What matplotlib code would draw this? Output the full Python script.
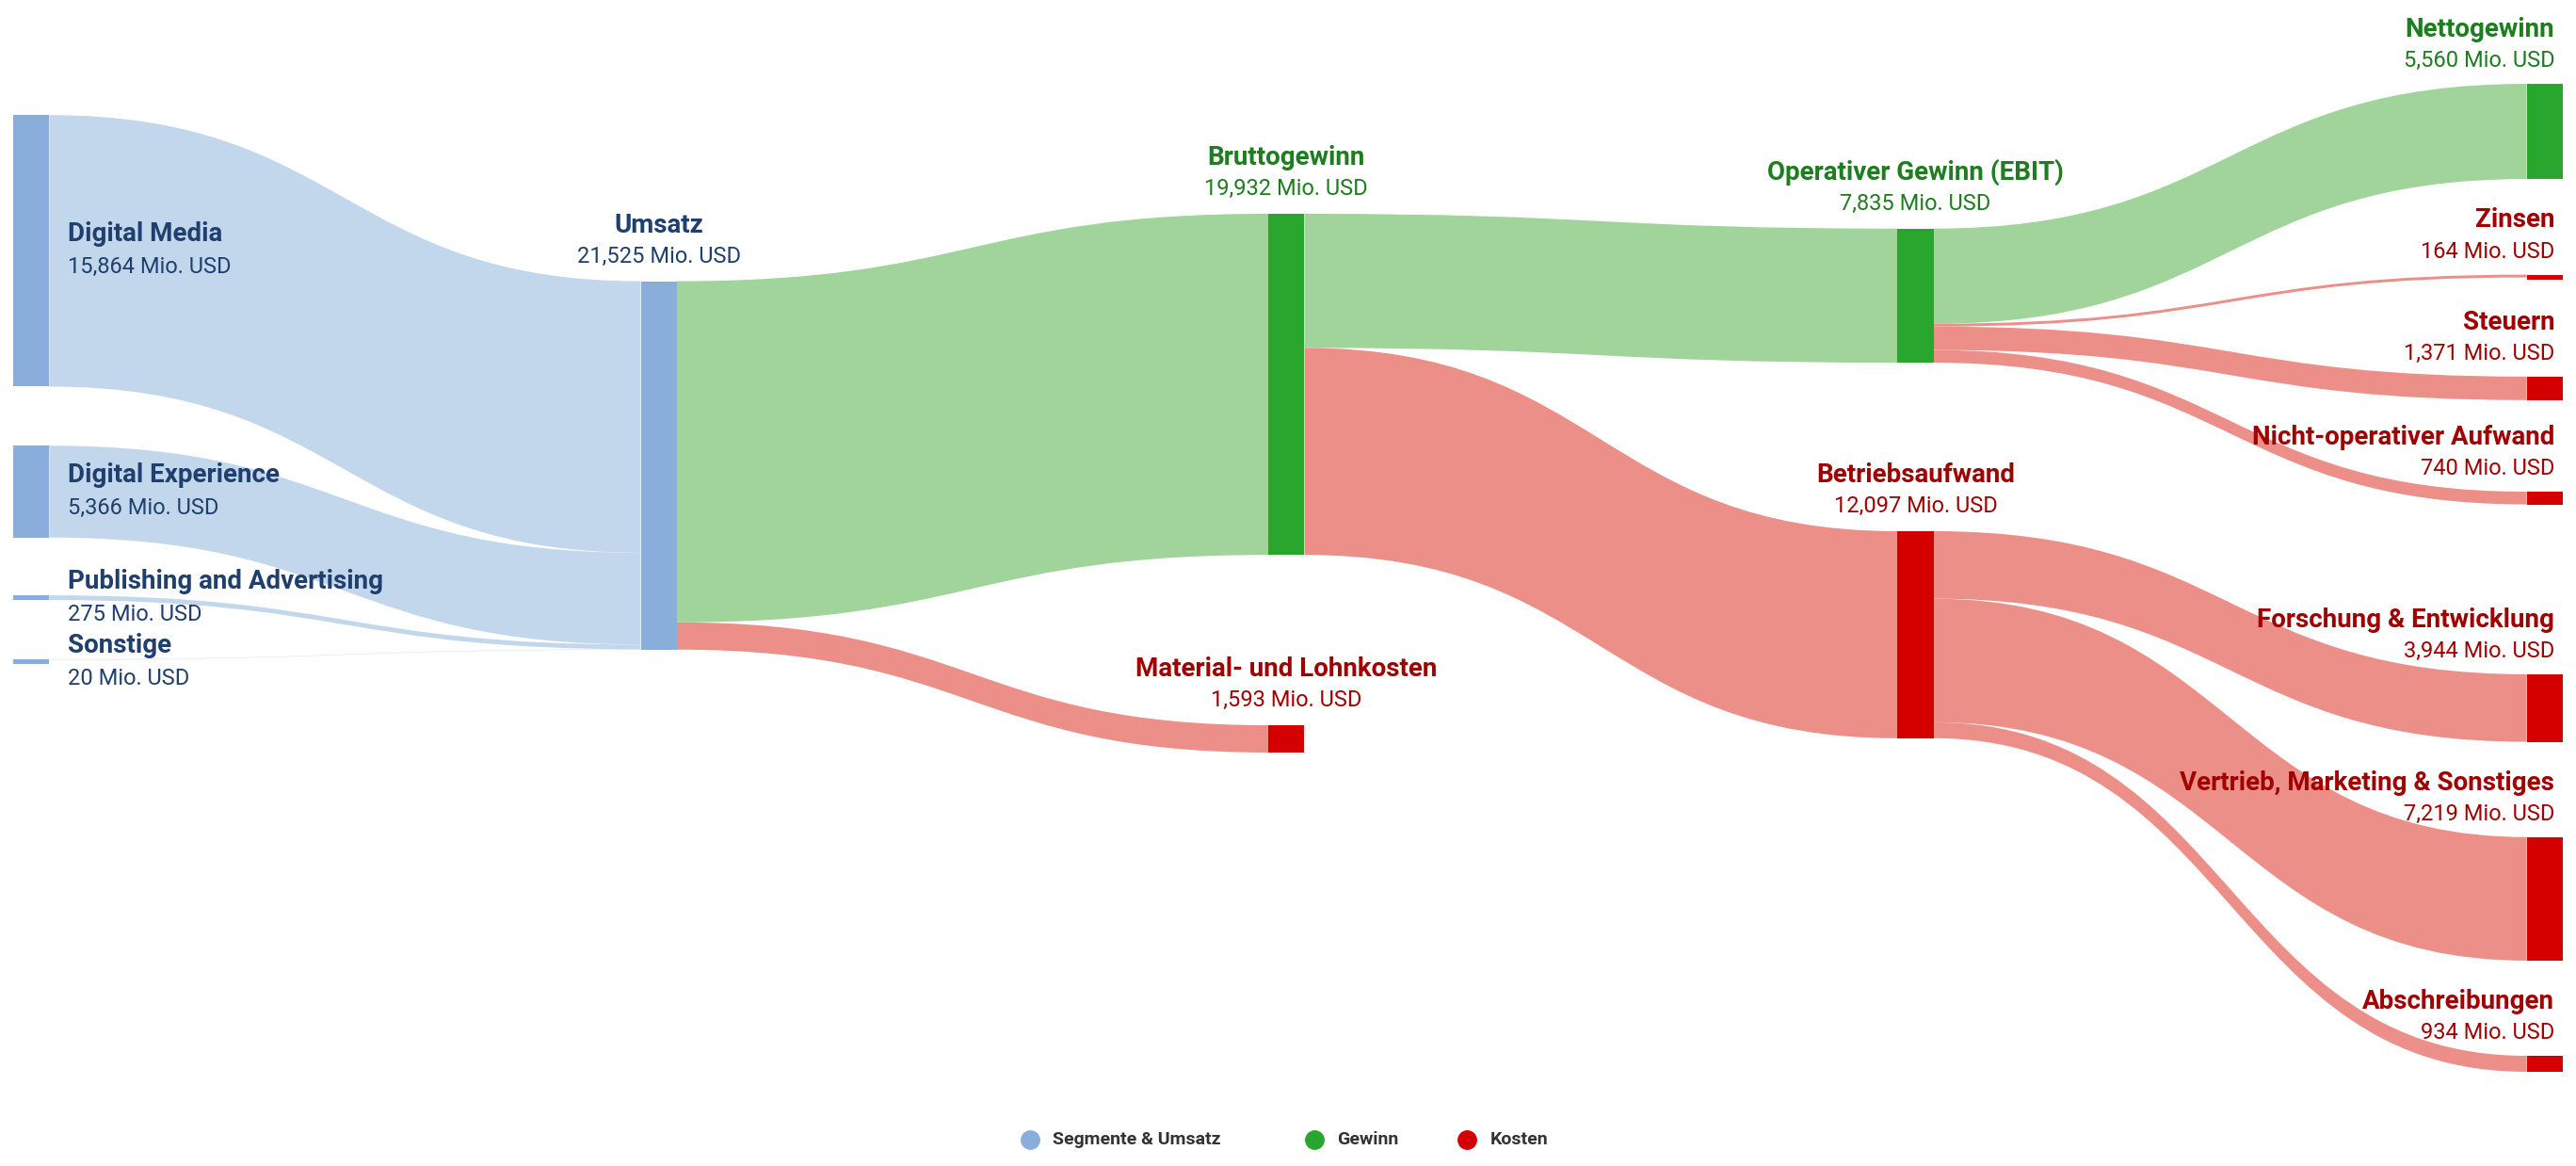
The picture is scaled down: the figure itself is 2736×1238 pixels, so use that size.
import matplotlib
matplotlib.use("Agg")
import matplotlib.pyplot as plt
from matplotlib.path import Path
from matplotlib.patches import PathPatch, Rectangle

plt.rcParams['font.family'] = ['Roboto', 'DejaVu Sans']

# ---- data ----
node_names = ["Digital Media", "Digital Experience", "Publishing and Advertising", "Sonstige",
              "Umsatz", "Bruttogewinn", "Material- und Lohnkosten",
              "Operativer Gewinn (EBIT)", "Betriebsaufwand",
              "Nettogewinn", "Zinsen", "Steuern", "Nicht-operativer Aufwand",
              "Forschung & Entwicklung", "Vertrieb, Marketing & Sonstiges", "Abschreibungen"]
node_values = [15864, 5366, 275, 20, 21525, 19932, 1593, 7835, 12097,
               5560, 164, 1371, 740, 3944, 7219, 934]
node_kind = ["seg", "seg", "seg", "seg", "seg", "gain", "cost", "gain", "cost",
             "gain", "cost", "cost", "cost", "cost", "cost", "cost"]
flows = [(0, 4), (1, 4), (2, 4), (3, 4), (4, 5), (4, 6), (5, 7), (5, 8),
         (7, 9), (7, 10), (7, 11), (7, 12), (8, 13), (8, 14), (8, 15)]
legend_labels = ["Segmente & Umsatz", "Gewinn", "Kosten"]

# ---- layout (display pixel coordinates) ----
col_x = [8, 8, 8, 8, 390, 772, 772, 1155, 1155, 1538, 1538, 1538, 1538, 1538, 1538, 1538]
node_top = [70, 271, 362, 401, 171, 130, 441, 139, 323, 51, 167, 229, 299, 410, 509, 642]
NW = 22
scale = 224.0 / 21525
node_col = {"seg": "#8aaedb", "gain": "#28a62e", "cost": "#d40000"}
flow_col = {"seg": "#c3d7ec", "gain": "#a0d49a", "cost": "#ec8f88"}
text_col = {"seg": "#1f3f6e", "gain": "#1e7d1e", "cost": "#a00000"}

W, H = 1568, 709
fig = plt.figure(figsize=(27.36, 12.38), dpi=100)
ax = fig.add_axes([0, 0, 1, 1])
ax.set_xlim(0, W)
ax.set_ylim(H, 0)
ax.axis("off")

out_off = {i: 0.0 for i in range(len(node_values))}
in_off = {i: 0.0 for i in range(len(node_values))}
for s, t in flows:
    v = node_values[t] if node_kind[s] != "seg" or t != 4 else node_values[s]
    v = min(node_values[s], node_values[t])
    h = v * scale
    x1 = col_x[s] + NW
    x2 = col_x[t]
    y1 = node_top[s] + out_off[s]
    y2 = node_top[t] + in_off[t]
    out_off[s] += h
    in_off[t] += h
    xm = (x1 + x2) / 2
    verts = [(x1, y1), (xm, y1), (xm, y2), (x2, y2), (x2, y2 + h),
             (xm, y2 + h), (xm, y1 + h), (x1, y1 + h), (x1, y1)]
    codes = [Path.MOVETO, Path.CURVE4, Path.CURVE4, Path.CURVE4, Path.LINETO,
             Path.CURVE4, Path.CURVE4, Path.CURVE4, Path.CLOSEPOLY]
    k = node_kind[t] if t != 4 else "seg"
    ax.add_patch(PathPatch(Path(verts, codes), fc=flow_col[k], ec="none", zorder=1))

for i, name in enumerate(node_names):
    h = max(node_values[i] * scale, 3)
    k = node_kind[i]
    ax.add_patch(Rectangle((col_x[i], node_top[i]), NW, h, fc=node_col[k], ec="none", zorder=2))
    val = f"{node_values[i]:,} Mio. USD"
    c = text_col[k]
    if i < 4:
        cy = node_top[i] + h / 2
        ax.text(col_x[i] + NW + 11, cy - 10, name, fontsize=20, fontweight="bold", color=c, ha="left", va="center")
        ax.text(col_x[i] + NW + 11, cy + 10, val, fontsize=17, color=c, ha="left", va="center")
    elif col_x[i] < 1500:
        cx = col_x[i] + NW / 2
        ax.text(cx, node_top[i] - 34, name, fontsize=20, fontweight="bold", color=c, ha="center", va="center")
        ax.text(cx, node_top[i] - 15, val, fontsize=17, color=c, ha="center", va="center")
    else:
        rx = 1555
        ax.text(rx, node_top[i] - 33, name, fontsize=20, fontweight="bold", color=c, ha="right", va="center")
        ax.text(rx, node_top[i] - 14, val, fontsize=17, color=c, ha="right", va="center")

leg_x = [627, 800, 893]
for lx, lab, k in zip(leg_x, legend_labels, ["seg", "gain", "cost"]):
    ax.plot(lx, 693, "o", ms=14, color=node_col[k])
    ax.text(lx + 14, 693, lab, fontsize=14, fontweight="bold", color="#333333", ha="left", va="center")

fig.savefig("out.png", dpi=100, facecolor="white")
